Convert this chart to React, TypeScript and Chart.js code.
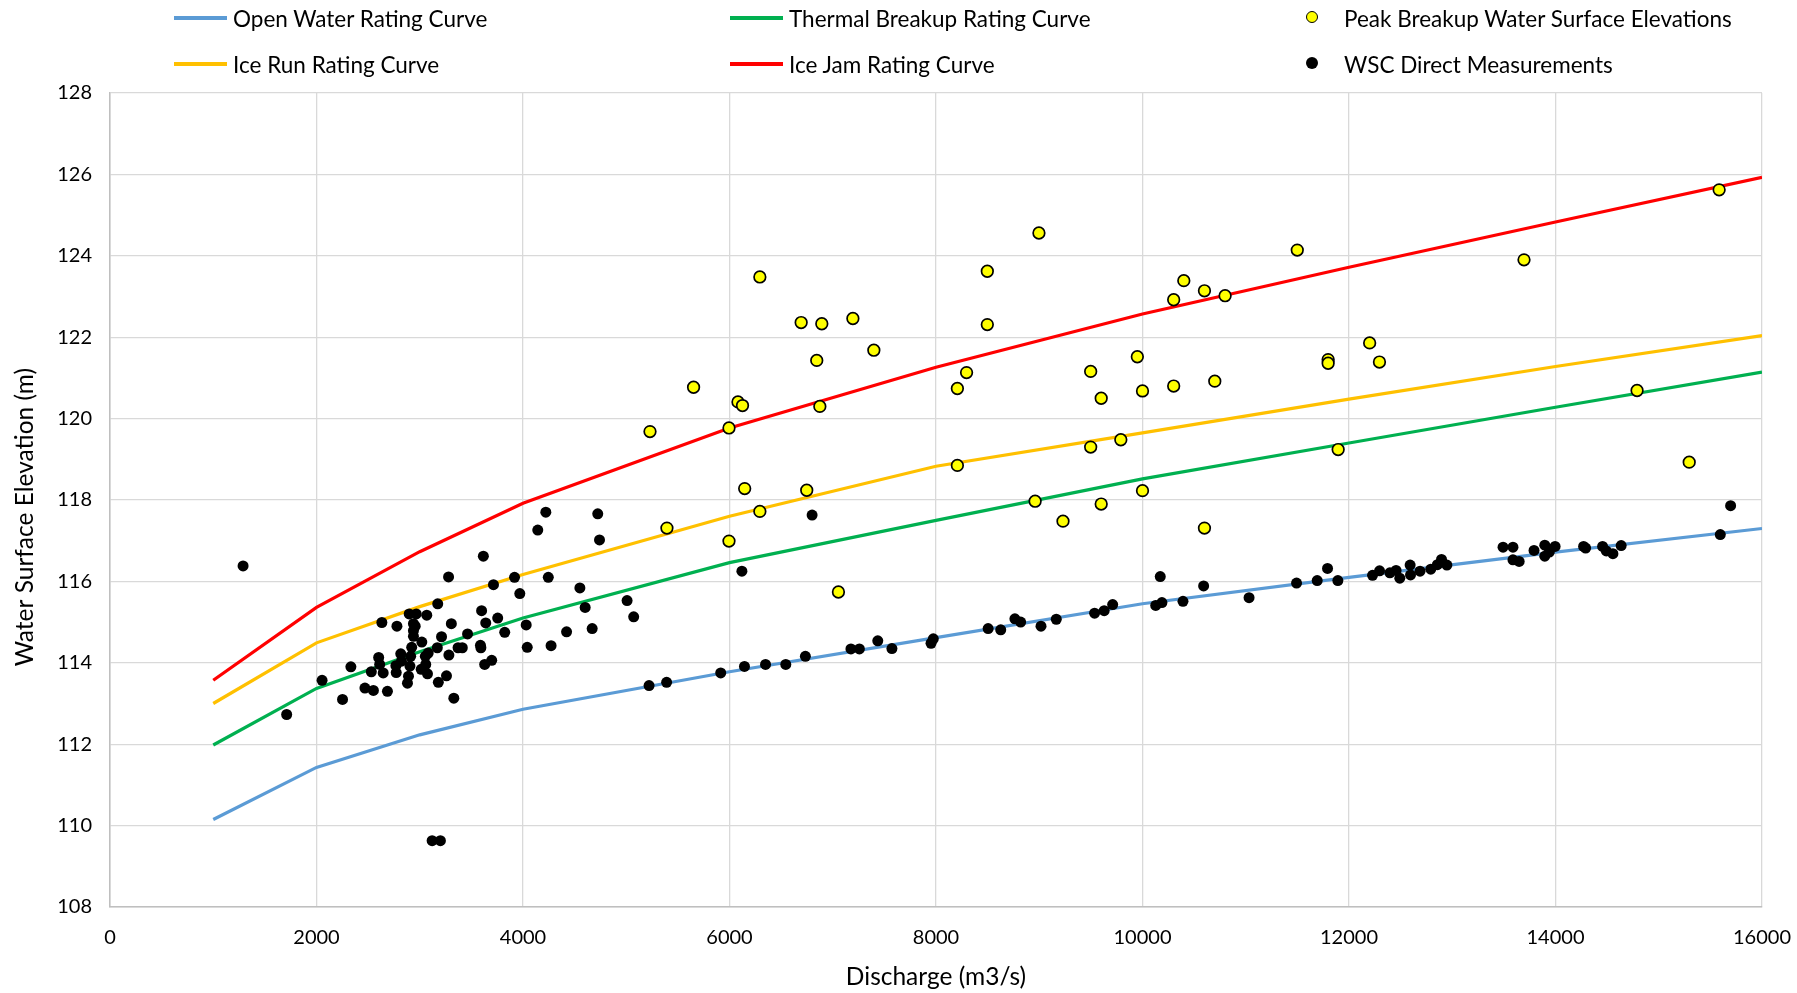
import React, { useEffect, useRef } from 'react';
import { Chart, registerables } from 'chart.js';

Chart.register(...registerables);

// Rating curves (discharge m3/s -> water surface elevation m)
const ratingQ = [1000, 2000, 3000, 4000, 6000, 8000, 10000, 12000, 14000, 16000];
const openWater = [110.15, 111.43, 112.23, 112.86, 113.78, 114.62, 115.45, 116.1, 116.72, 117.3];
const thermalBreakup = [111.98, 113.37, 114.27, 115.1, 116.46, 117.5, 118.52, 119.4, 120.28, 121.14];
const iceRun = [113.0, 114.49, 115.38, 116.17, 117.6, 118.83, 119.65, 120.48, 121.28, 122.04];
const iceJam = [113.57, 115.36, 116.73, 117.92, 119.77, 121.26, 122.57, 123.72, 124.83, 125.93];

// Peak breakup water surface elevations
const peakQ = [
  5230, 5394, 5652, 5995, 5995, 6082, 6126, 6147, 6294, 6294, 6694, 6748, 6845, 6894, 6875, 7195, 7398, 7055,
  8207, 8207, 8296, 8497, 8497, 8960, 8997, 9230, 9498, 9498, 9600, 9600, 9790, 9950, 10000, 10000, 10302, 10302,
  10400, 10600, 10600, 10700, 10800, 11499, 11798, 11798, 11895, 12200, 12295, 13695, 14790, 15295, 15585,
];
const peakElev = [
  119.68, 117.31, 120.77, 119.77, 116.99, 120.41, 120.32, 118.28, 123.48, 117.72, 122.36, 118.24, 121.43, 122.33,
  120.3, 122.46, 121.68, 115.74, 120.74, 118.85, 121.13, 123.62, 122.31, 117.97, 124.56, 117.48, 121.16, 119.3,
  120.5, 117.9, 119.48, 121.52, 120.68, 118.23, 122.92, 120.8, 123.39, 123.14, 117.31, 120.92, 123.02, 124.14,
  121.45, 121.36, 119.24, 121.86, 121.39, 123.9, 120.69, 118.93, 125.62,
];

// WSC direct measurements
const wscQ = [
  1289, 1711, 2054, 2252, 2333, 2469, 2551, 2687, 2531, 2602, 2612, 2646, 2633, 2779, 2769, 2772, 2816, 2823, 2881,
  2891, 2905, 2912, 2922, 2898, 2966, 2939, 2956, 2939, 2939, 3020, 3068, 3014, 3058, 3075, 3054, 3082, 3174, 3170,
  3180, 3259, 3279, 3211, 3282, 3306, 3330, 3371, 3412, 3463, 3616, 3599, 3588, 3592, 3639, 3755, 3714, 3823, 3629,
  3697, 3918, 3969, 4031, 4041, 4143, 4221, 4245, 4272, 4422, 4551, 4602, 4670, 4724, 4741, 5008, 5072, 5221, 5391,
  5915, 6145, 6349, 6545, 6735, 7176, 7258, 7436, 7573, 7952, 7974, 8505, 8627, 8764, 8820, 9017, 9165, 9536, 9629,
  9711, 10128, 10188, 10172, 10392, 10592, 11032, 11492, 11692, 11792, 11892, 12228, 12296, 12396, 12456, 12492,
  12592, 12596, 12688, 12792, 12856, 12896, 12948, 13492, 13588, 13588, 13648, 13792, 13896, 13896, 13940, 13996,
  14272, 14292, 14456, 14492, 14556, 14636, 15596, 15696, 6120, 6800, 3120, 3200,
];
const wscElev = [
  116.38, 112.73, 113.57, 113.1, 113.9, 113.38, 113.32, 113.3, 113.78, 114.13, 113.96, 113.75, 114.99, 114.9, 113.93,
  113.76, 114.22, 114.04, 113.5, 113.67, 113.92, 114.16, 114.38, 115.2, 115.2, 114.96, 114.9, 114.79, 114.65, 114.51,
  115.17, 113.84, 113.96, 113.73, 114.16, 114.24, 115.45, 114.37, 113.52, 113.68, 116.11, 114.64, 114.19, 114.96,
  113.13, 114.37, 114.37, 114.71, 116.62, 115.28, 114.43, 114.37, 114.98, 115.1, 115.92, 114.75, 113.96, 114.06,
  116.1, 115.7, 114.93, 114.38, 117.26, 117.7, 116.1, 114.42, 114.76, 115.84, 115.36, 114.84, 117.66, 117.02, 115.53,
  115.13, 113.44, 113.52, 113.75, 113.91, 113.96, 113.96, 114.16, 114.34, 114.34, 114.54, 114.35, 114.48, 114.59,
  114.84, 114.81, 115.08, 115.0, 114.9, 115.07, 115.22, 115.28, 115.43, 115.41, 115.48, 116.12, 115.51, 115.89, 115.6,
  115.96, 116.02, 116.32, 116.02, 116.15, 116.26, 116.21, 116.27, 116.08, 116.4, 116.16, 116.25, 116.3, 116.41,
  116.54, 116.4, 116.84, 116.84, 116.53, 116.49, 116.76, 116.89, 116.62, 116.72, 116.86, 116.86, 116.82, 116.86,
  116.75, 116.68, 116.88, 117.15, 117.86, 116.25, 117.63, 109.63, 109.63,
];

const FONT = 'Lato, "Open Sans", sans-serif';
const TEXT = '#000000';
const Y_TITLE = 'Water Surface Elevation (m)';

const zip = (xs: number[], ys: number[]) => xs.map((x, i) => ({ x, y: ys[i] }));

const lineSet = (label: string, values: number[], color: string) => ({
  label,
  data: zip(ratingQ, values),
  showLine: true,
  borderColor: color,
  backgroundColor: color,
  borderWidth: 3.2,
  pointRadius: 0,
  tension: 0,
  order: 5,
});

// Y-axis title, placed slightly below the plot centre as in the original
const yTitlePlugin = {
  id: 'yTitle',
  afterDraw(chart: any) {
    const { ctx, chartArea } = chart;
    ctx.save();
    ctx.translate(25, (chartArea.top + chartArea.bottom) / 2 + 17);
    ctx.rotate(-Math.PI / 2);
    ctx.font = `24.5px ${FONT}`;
    ctx.fillStyle = TEXT;
    ctx.textAlign = 'center';
    ctx.textBaseline = 'middle';
    ctx.fillText(Y_TITLE, 0, 0);
    ctx.restore();
  },
};

type LegendItem = { label: string; kind: 'line' | 'dot'; color: string; border?: string; left: number; top: number };
const legendItems: LegendItem[] = [
  { label: 'Open Water Rating Curve', kind: 'line', color: '#5b9bd5', left: 174, top: 18 },
  { label: 'Thermal Breakup Rating Curve', kind: 'line', color: '#00b050', left: 730, top: 18 },
  { label: 'Peak Breakup Water Surface Elevations', kind: 'dot', color: '#ffff00', border: '#000', left: 1306, top: 18 },
  { label: 'Ice Run Rating Curve', kind: 'line', color: '#ffc000', left: 174, top: 64 },
  { label: 'Ice Jam Rating Curve', kind: 'line', color: '#ff0000', left: 730, top: 64 },
  { label: 'WSC Direct Measurements', kind: 'dot', color: '#000000', left: 1306, top: 64 },
];

export default function App() {
  const ref = useRef<HTMLCanvasElement>(null);

  useEffect(() => {
    if (!ref.current) return;
    const chart = new Chart(ref.current, {
      type: 'scatter',
      data: {
        datasets: [
          lineSet('Open Water Rating Curve', openWater, '#5b9bd5'),
          lineSet('Thermal Breakup Rating Curve', thermalBreakup, '#00b050'),
          lineSet('Ice Run Rating Curve', iceRun, '#ffc000'),
          lineSet('Ice Jam Rating Curve', iceJam, '#ff0000'),
          {
            label: 'Peak Breakup Water Surface Elevations',
            data: zip(peakQ, peakElev),
            backgroundColor: '#ffff00',
            borderColor: '#000000',
            borderWidth: 1.7,
            pointRadius: 5.8,
            order: 2,
          },
          {
            label: 'WSC Direct Measurements',
            data: zip(wscQ, wscElev),
            backgroundColor: '#000000',
            borderColor: '#000000',
            borderWidth: 0,
            pointRadius: 5.5,
            order: 1,
          },
        ] as any,
      },
      options: {
        responsive: false,
        animation: false,
        events: [],
        layout: { padding: { top: 93, right: 35, left: 0, bottom: 0 } },
        plugins: { legend: { display: false }, tooltip: { enabled: false } },
        scales: {
          x: {
            type: 'linear',
            min: 0,
            max: 16000,
            ticks: {
              stepSize: 2000,
              padding: 19,
              autoSkip: false,
              maxRotation: 0,
              color: TEXT,
              font: { family: FONT, size: 20 },
              callback: (v: any) => String(v),
            },
            grid: { color: '#d9d9d9', lineWidth: 1.3, drawTicks: false },
            border: { color: '#bfbfbf', width: 1.5 },
            title: {
              display: true,
              text: 'Discharge (m3/s)',
              color: TEXT,
              font: { family: FONT, size: 24.5 },
              padding: { top: 0, bottom: 1 },
            },
            afterFit: (s: any) => {
              s.height = 86;
              s.paddingLeft = 0;
              s.paddingRight = 0;
            },
          },
          y: {
            type: 'linear',
            min: 108,
            max: 128,
            ticks: {
              stepSize: 2,
              padding: 18,
              color: TEXT,
              font: { family: FONT, size: 20 },
            },
            grid: { color: '#d9d9d9', lineWidth: 1.3, drawTicks: false },
            border: { color: '#bfbfbf', width: 1.5 },
            title: { display: false },
            afterFit: (s: any) => {
              s.width = 110;
              s.paddingTop = 0;
              s.paddingBottom = 0;
            },
          },
        },
      } as any,
      plugins: [yTitlePlugin],
    });
    return () => chart.destroy();
  }, []);

  return (
    <div
      style={{
        position: 'fixed',
        left: 0,
        top: 0,
        width: 1797,
        height: 993,
        background: '#ffffff',
        overflow: 'hidden',
      }}
    >
      <canvas ref={ref} width={1797} height={993} style={{ display: 'block', width: 1797, height: 993 }} />
      {legendItems.map((it) => (
        <div
          key={it.label}
          style={{
            position: 'absolute',
            left: it.left,
            top: it.top - 15,
            height: 30,
            display: 'flex',
            alignItems: 'center',
            fontFamily: FONT,
            fontSize: 22.5,
            color: TEXT,
            whiteSpace: 'nowrap',
          }}
        >
          {it.kind === 'line' ? (
            <span style={{ display: 'inline-block', width: 53, height: 4, background: it.color, marginRight: 6 }} />
          ) : (
            <span style={{ display: 'inline-block', width: 38, height: 30, position: 'relative' }}>
              <span
                style={{
                  position: 'absolute',
                  left: 0,
                  top: 8,
                  width: it.border ? 10 : 12,
                  height: it.border ? 10 : 12,
                  borderRadius: '50%',
                  background: it.color,
                  border: it.border ? `1.7px solid ${it.border}` : 'none',
                }}
              />
            </span>
          )}
          <span>{it.label}</span>
        </div>
      ))}
    </div>
  );
}
